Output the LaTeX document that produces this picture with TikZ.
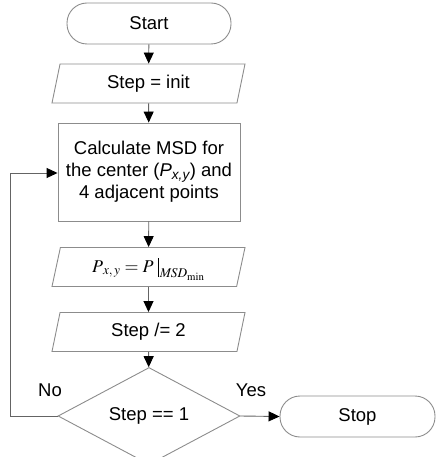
\documentclass[tikz,border=0pt]{standalone}
\usepackage{mathptmx}
\usepackage{fontspec}
\setmainfont{Liberation Sans}
\usetikzlibrary{shapes.geometric,arrows.meta}
\definecolor{frame}{RGB}{140,140,140}
\definecolor{wire}{RGB}{100,100,100}
\tikzset{
  base/.style={draw=frame, line width=0.9pt, align=center, inner sep=0pt,
    font=\fontsize{18.5}{22}\selectfont},
  terminal/.style={base, rectangle, rounded corners=20pt, minimum height=41pt},
  io/.style={base, trapezium, trapezium left angle=65, trapezium right angle=115,
    trapezium stretches body, minimum width=193pt, minimum height=39pt},
  process/.style={base, rectangle, minimum width=182pt, minimum height=98pt},
  decision/.style={base, diamond, minimum width=182pt, minimum height=74pt},
  flow/.style={draw=wire, line width=0.9pt,
    -{Triangle[length=11pt,width=10pt,fill=black,color=black]}},
  tag/.style={font=\fontsize{18.5}{22}\selectfont}
}
% evaluation bar: a plain rule with a subscript hung from it
\newcommand{\evalbar}[1]{\;{\vrule width 0.8pt height 14pt depth 5pt}_{\,#1}}
\begin{document}
\begin{tikzpicture}[x=1pt,y=-1pt]
\useasboundingbox (0,0) rectangle (437,457);

\node[terminal, minimum width=164pt] (start) at (149,23.5) {Start};
\node[io] (init) at (148.5,83.5) {Step = init};
\node[process] (calc) at (149,172) {Calculate MSD for\\the center (\textit{P\textsubscript{x,y}}) and\\4 adjacent points};
\node[io, text height=14pt, text depth=4pt] (pick) at (148.5,267)
  {\fontsize{18}{20}\selectfont$P{}_{x,\,y} = P\evalbar{\mathit{MSD}_{\min}}$};
\node[io] (half) at (148.5,332) {Step /= 2};
\node[decision] (test) at (149,416) {Step == 1};
\node[terminal, minimum width=155pt] (stop) at (357.5,416.5) {Stop};

\coordinate (back) at (10,416);
\coordinate (backtop) at (10,173);

\draw[flow] (start) -- (init);
\draw[flow] (init) -- (calc);
\draw[flow] (calc) -- (pick);
\draw[flow] (pick) -- (half);
\draw[flow] (half) -- (test);
\draw[flow] (test.east) -- (stop.west);
\draw[flow] (test.west) -- (back) -- (backtop) -- (backtop -| calc.west);

\node[tag] (no) at (50,390) {No};
\node[tag] (yes) at (251,390) {Yes};
\end{tikzpicture}
\end{document}
